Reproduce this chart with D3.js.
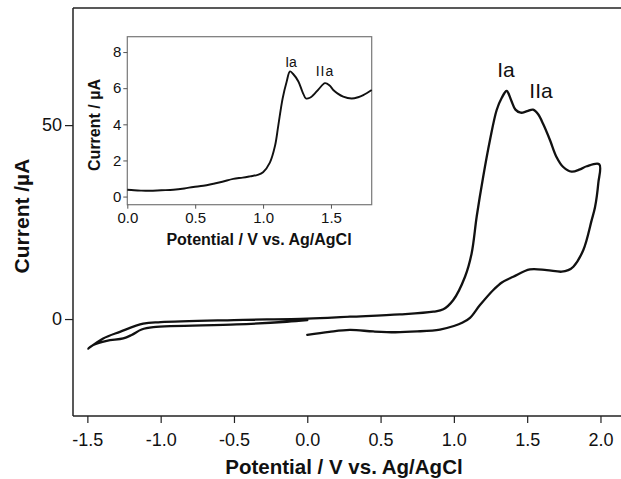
<!DOCTYPE html>
<html><head><meta charset="utf-8">
<script src="https://cdn.jsdelivr.net/npm/d3@7"></script>
<style>body{margin:0;background:#fff}svg{display:block}text{font-family:"Liberation Sans",Arial,sans-serif}</style>
</head><body>
<script>
// Main CV data (potential V, current µA), traced along the loop
const cvPotential = [0,0.15,0.291,0.45,0.6,0.75,0.905,1.0,1.06,1.11,1.178,1.269,1.33,1.405,1.519,1.633,1.735,1.78,1.815,1.883,1.94,1.963,1.985,1.992,
  1.906,1.86,1.803,1.746,1.70,1.656,1.61,1.575,1.54,1.50,1.456,1.42,1.39,1.36,1.326,1.292,1.246,1.20,1.156,1.121,1.076,0.996,0.928,0.86,0.632,0.291,0,-0.5,-1.0,-1.119,-1.278,-1.392,-1.494,
  -1.46,-1.368,-1.255,-1.198,-1.13,-1.05,-0.482,-0.14,0];
const cvCurrent = [-4.1,-3.3,-2.8,-3.2,-3.4,-3.2,-2.7,-1.8,-0.9,0.3,3.6,7.5,9.5,10.9,12.8,12.6,12.2,12.6,13.5,17.8,25.5,28.9,35,39.9,
  39.4,38.6,38.0,39.2,41.8,46.1,50.2,52.8,54.0,53.6,53.2,54.0,56.5,58.8,57.0,53.9,46.1,36.7,26.5,16.9,10.9,4.9,2.5,1.9,1.2,0.6,0.1,-0.26,-0.8,-1.2,-3.3,-5.0,-7.6,
  -6.7,-5.6,-5.0,-4.1,-2.7,-2.1,-1.4,-0.7,-0.3];
const xTicks = [-1.5,-1.0,-0.5,0.0,0.5,1.0,1.5,2.0];
const xTickLabels = ["-1.5","-1.0","-0.5","0.0","0.5","1.0","1.5","2.0"];
const yTicks = [0,50];

// Inset data
const insetPotential = [0.0,0.05,0.1,0.167,0.25,0.339,0.42,0.486,0.56,0.633,0.70,0.78,0.85,0.904,0.96,1.0,1.05,1.088,1.112,1.144,1.174,1.198,1.22,1.26,1.29,1.316,1.345,1.37,1.41,1.456,1.49,1.517,1.55,1.59,1.652,1.70,1.738,1.80];
const insetCurrent = [0.38,0.35,0.33,0.32,0.35,0.38,0.45,0.53,0.6,0.71,0.82,0.98,1.05,1.12,1.2,1.35,1.88,2.81,3.93,5.43,6.37,6.93,6.8,6.37,5.8,5.43,5.47,5.62,5.95,6.28,6.15,5.9,5.7,5.53,5.43,5.5,5.62,5.9];
const insetXTicks = [0,0.5,1.0,1.5];
const insetYTicks = [0,2,4,6,8];

const W=621,H=479;
const svg=d3.select("body").append("svg").attr("width",W).attr("height",H);

// Main scales
const x=d3.scaleLinear().domain([-1.598,2.14]).range([73,621]);
const y=d3.scaleLinear().domain([-25,80.2]).range([416,8]);
const axisCol="#222";

svg.append("line").attr("x1",73).attr("x2",621).attr("y1",8).attr("y2",8).attr("stroke",axisCol).attr("stroke-width",1.5);

const gx=svg.append("g").attr("transform","translate(0,416)")
  .call(d3.axisBottom(x).tickValues(xTicks).tickFormat((d,i)=>xTickLabels[i]).tickSizeOuter(0).tickSize(7).tickPadding(10));
const gy=svg.append("g").attr("transform","translate(73,0)")
  .call(d3.axisLeft(y).tickValues(yTicks).tickFormat(d3.format("d")).tickSizeOuter(0).tickSize(8).tickPadding(3));
[gx,gy].forEach(g=>{
  g.select(".domain").attr("stroke",axisCol).attr("stroke-width",1.5);
  g.selectAll(".tick line").attr("stroke",axisCol).attr("stroke-width",1.2);
  g.selectAll(".tick text").attr("fill","#111").style("font-size","18px").style("font-family","'Liberation Sans',Arial,sans-serif");
});
gy.select(".domain").attr("d","M0,8V416");
gx.select(".domain").attr("d","M73,0H621");

const cvData=cvPotential.map((v,i)=>[v,cvCurrent[i]]);
svg.append("path").datum(cvData)
  .attr("d",d3.line().x(d=>x(d[0])).y(d=>y(d[1])).curve(d3.curveCatmullRom.alpha(0.5)))
  .attr("fill","none").attr("stroke","#111").attr("stroke-width",2.3).attr("stroke-linejoin","round").attr("stroke-linecap","round");

svg.append("text").attr("x",506).attr("y",77).attr("text-anchor","middle").style("font-size","21px").attr("fill","#111").text("Ia");
svg.append("text").attr("x",541).attr("y",98).attr("text-anchor","middle").style("font-size","21px").attr("fill","#111").text("IIa");

svg.append("text").attr("x",344).attr("y",474).attr("text-anchor","middle").style("font-size","20.5px").style("font-weight","bold").attr("fill","#111").text("Potential / V vs. Ag/AgCl");
svg.append("text").attr("transform","translate(29,216) rotate(-90)").attr("text-anchor","middle").style("font-size","21px").style("font-weight","bold").attr("fill","#111").text("Current /µA");

// Inset
const ix=d3.scaleLinear().domain([0,1.8]).range([127.3,371.7]);
const iy=d3.scaleLinear().domain([-0.45,8.85]).range([204.7,36.7]);
const inset=svg.append("g");
inset.append("rect").attr("x",127.3).attr("y",36.7).attr("width",371.7-127.3).attr("height",204.7-36.7)
  .attr("fill","#fff").attr("stroke","#777").attr("stroke-width",1.2);
const igx=inset.append("g").attr("transform","translate(0,204.7)")
  .call(d3.axisBottom(ix).tickValues(insetXTicks).tickFormat(d3.format(".1f")).tickSizeOuter(0).tickSize(4).tickPadding(4));
const igy=inset.append("g").attr("transform","translate(127.3,0)")
  .call(d3.axisLeft(iy).tickValues(insetYTicks).tickFormat(d3.format("d")).tickSizeOuter(0).tickSize(4).tickPadding(2));
[igx,igy].forEach(g=>{
  g.select(".domain").remove();
  g.selectAll(".tick line").attr("stroke","#555");
  g.selectAll(".tick text").attr("fill","#111").style("font-size","15px").style("font-family","'Liberation Sans',Arial,sans-serif");
});
const insetData=insetPotential.map((v,i)=>[v,insetCurrent[i]]);
inset.append("path").datum(insetData)
  .attr("d",d3.line().x(d=>ix(d[0])).y(d=>iy(d[1])).curve(d3.curveCatmullRom.alpha(0.5)))
  .attr("fill","none").attr("stroke","#111").attr("stroke-width",1.9).attr("stroke-linejoin","round");
inset.append("text").attr("x",291).attr("y",67).attr("text-anchor","middle").style("font-size","14px").attr("fill","#111").text("Ia");
inset.append("text").attr("x",325).attr("y",76).attr("text-anchor","middle").style("font-size","14px").style("letter-spacing","1px").attr("fill","#111").text("IIa");
inset.append("text").attr("x",259).attr("y",245).attr("text-anchor","middle").style("font-size","16px").style("font-weight","bold").attr("fill","#111").text("Potential / V vs. Ag/AgCl");
inset.append("text").attr("transform","translate(100,125) rotate(-90)").attr("text-anchor","middle").style("font-size","16px").style("font-weight","bold").attr("fill","#111").text("Current / µA");
</script>
</body></html>
